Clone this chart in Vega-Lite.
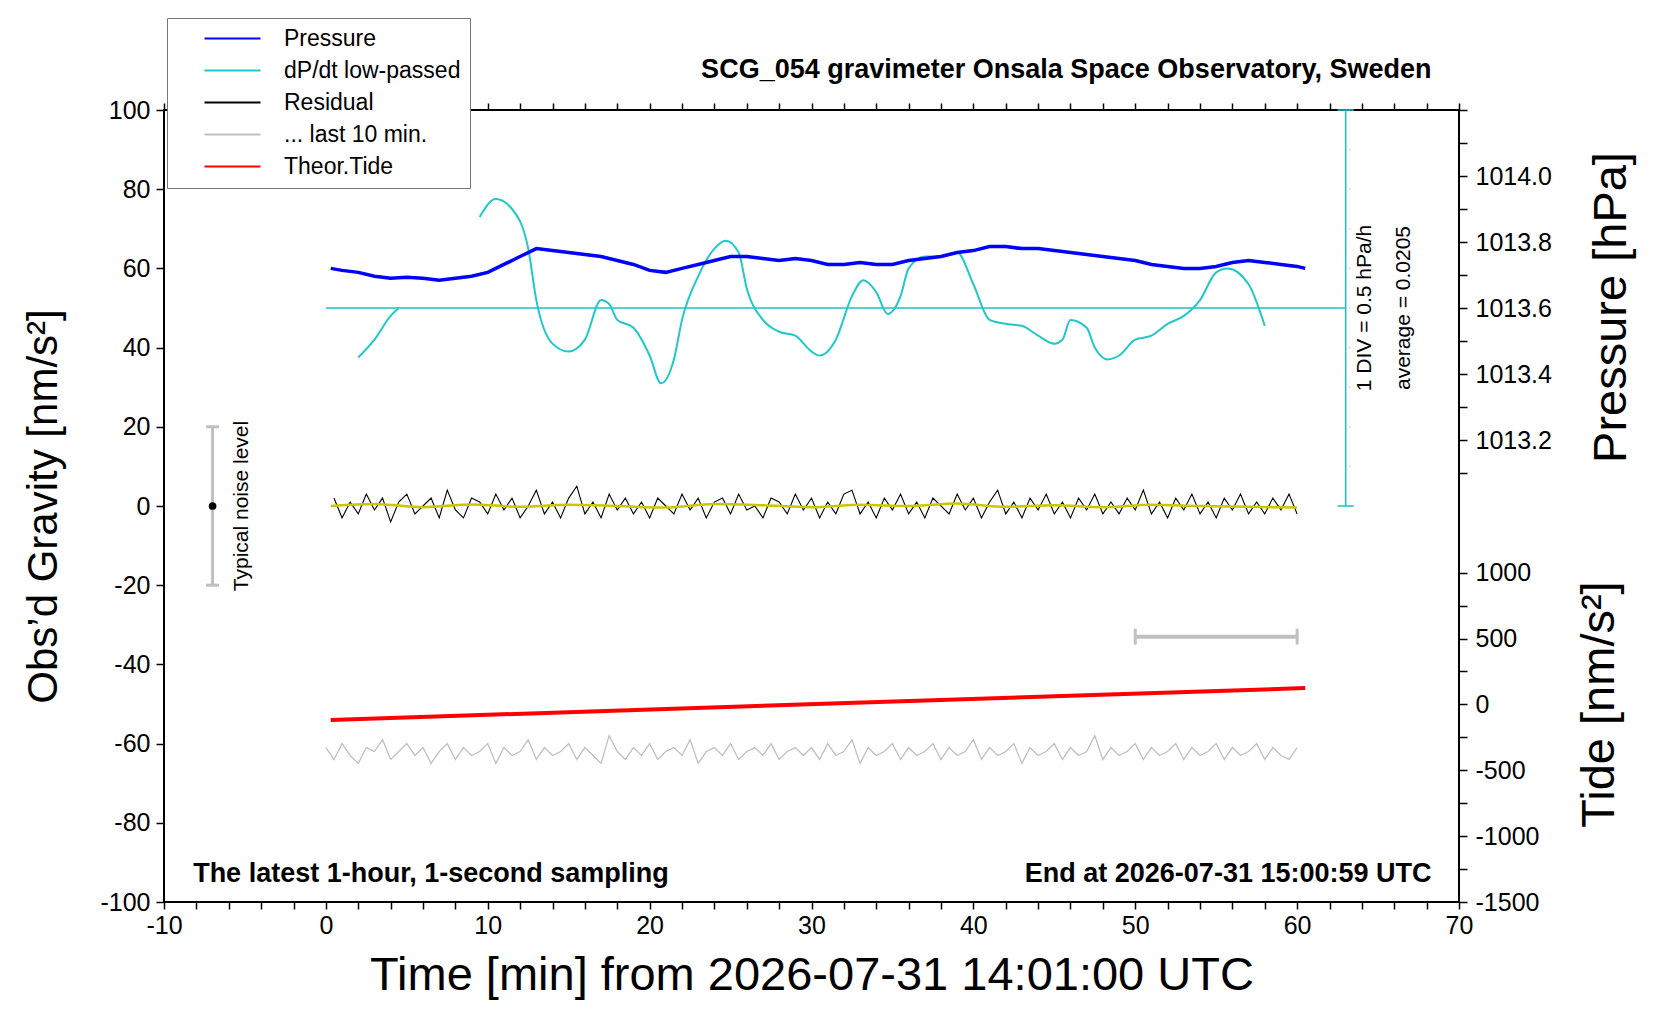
{
"$schema":"https://vega.github.io/schema/vega-lite/v6.json",
"width":1295,"height":792,
"autosize":{"type":"none"},
"padding":{"left":164,"top":110,"right":201,"bottom":118},
"background":"white",
"config":{"font":"Liberation Sans","view":{"stroke":"black","strokeWidth":2},
 "axis":{"domainColor":"black","domainWidth":2,"tickColor":"black","tickWidth":1.5,"labelColor":"black","labelFontSize":25,"labelFont":"Liberation Sans","titleFont":"Liberation Sans","titleFontWeight":"normal","titleColor":"black","grid":false,"labelOverlap":false},
 "legend":{"orient":"none","legendX":3,"legendY":-92,"strokeColor":"#777","fillColor":"white","padding":9,"labelFontSize":23,"labelFont":"Liberation Sans","symbolType":"M-2.8,0H2.8","symbolSize":400,"symbolStrokeWidth":2,"symbolOffset":45,"rowPadding":8,"labelOffset":40,"labelLimit":400,"title":null}},
"datasets":{
"prs":[{"t":0.3,"p":1013.720},{"t":1,"p":1013.714},{"t":2,"p":1013.708},{"t":3,"p":1013.696},{"t":4,"p":1013.690},{"t":5,"p":1013.693},{"t":6,"p":1013.690},{"t":7,"p":1013.684},{"t":8,"p":1013.690},{"t":9,"p":1013.696},{"t":10,"p":1013.708},{"t":11,"p":1013.732},{"t":12,"p":1013.756},{"t":13,"p":1013.780},{"t":14,"p":1013.774},{"t":15,"p":1013.768},{"t":16,"p":1013.762},{"t":17,"p":1013.756},{"t":18,"p":1013.744},{"t":19,"p":1013.732},{"t":20,"p":1013.714},{"t":21,"p":1013.708},{"t":22,"p":1013.720},{"t":23,"p":1013.732},{"t":24,"p":1013.744},{"t":25,"p":1013.756},{"t":26,"p":1013.756},{"t":27,"p":1013.750},{"t":28,"p":1013.744},{"t":29,"p":1013.750},{"t":30,"p":1013.744},{"t":31,"p":1013.732},{"t":32,"p":1013.732},{"t":33,"p":1013.738},{"t":34,"p":1013.732},{"t":35,"p":1013.732},{"t":36,"p":1013.744},{"t":37,"p":1013.750},{"t":38,"p":1013.756},{"t":39,"p":1013.768},{"t":40,"p":1013.774},{"t":41,"p":1013.786},{"t":42,"p":1013.786},{"t":43,"p":1013.780},{"t":44,"p":1013.780},{"t":45,"p":1013.774},{"t":46,"p":1013.768},{"t":47,"p":1013.762},{"t":48,"p":1013.756},{"t":49,"p":1013.750},{"t":50,"p":1013.744},{"t":51,"p":1013.732},{"t":52,"p":1013.726},{"t":53,"p":1013.720},{"t":54,"p":1013.720},{"t":55,"p":1013.726},{"t":56,"p":1013.738},{"t":57,"p":1013.744},{"t":58,"p":1013.738},{"t":59,"p":1013.732},{"t":60,"p":1013.726},{"t":60.5,"p":1013.720}],
"dp":[{"t":2,"v":37.5,"s":1},{"t":3,"v":42,"s":1},{"t":4,"v":48,"s":1},{"t":4.5,"v":50,"s":1},
{"t":9.5,"v":73,"s":2},{"t":10.5,"v":77.5,"s":2},{"t":11.5,"v":75,"s":2},{"t":12.5,"v":65,"s":2},{"t":13,"v":52,"s":2},{"t":14,"v":41,"s":2},{"t":15,"v":39,"s":2},{"t":16,"v":42,"s":2},{"t":17,"v":52,"s":2},{"t":17.5,"v":51,"s":2},{"t":18,"v":47,"s":2},{"t":19,"v":45,"s":2},{"t":20,"v":38,"s":2},{"t":20.7,"v":31,"s":2},{"t":21.5,"v":37,"s":2},{"t":22,"v":47,"s":2},{"t":23,"v":58,"s":2},{"t":24,"v":65,"s":2},{"t":24.7,"v":67,"s":2},{"t":25.5,"v":64,"s":2},{"t":26,"v":55,"s":2},{"t":27,"v":47,"s":2},{"t":28,"v":44,"s":2},{"t":29,"v":43,"s":2},{"t":30,"v":39,"s":2},{"t":30.5,"v":38,"s":2},{"t":31.5,"v":42,"s":2},{"t":32.5,"v":53,"s":2},{"t":33.2,"v":57,"s":2},{"t":34,"v":54,"s":2},{"t":34.7,"v":48.5,"s":2},{"t":35.5,"v":53,"s":2},{"t":36,"v":60,"s":2},{"t":37,"v":63,"s":2},{"t":38,"v":63,"s":2},{"t":39,"v":64,"s":2},{"t":40,"v":56,"s":2},{"t":41,"v":47,"s":2},{"t":42,"v":46,"s":2},{"t":43,"v":45.5,"s":2},{"t":44,"v":43,"s":2},{"t":45,"v":41,"s":2},{"t":45.5,"v":42,"s":2},{"t":46,"v":47,"s":2},{"t":47,"v":45,"s":2},{"t":47.5,"v":40,"s":2},{"t":48.3,"v":37,"s":2},{"t":49,"v":38,"s":2},{"t":50,"v":42,"s":2},{"t":51,"v":43,"s":2},{"t":52,"v":46,"s":2},{"t":53,"v":48,"s":2},{"t":54,"v":52,"s":2},{"t":55,"v":59,"s":2},{"t":55.7,"v":60,"s":2},{"t":57,"v":56,"s":2},{"t":58,"v":45.5,"s":2}],
"res":[{"t":0.5,"r":2},{"t":1,"r":-3},{"t":1.5,"r":1},{"t":2,"r":-2},{"t":2.5,"r":3},{"t":3,"r":-1},{"t":3.5,"r":2},{"t":4,"r":-4},{"t":4.5,"r":1},{"t":5,"r":3},{"t":5.5,"r":-2},{"t":6,"r":0},{"t":6.5,"r":2},{"t":7,"r":-3},{"t":7.5,"r":4},{"t":8,"r":-1},{"t":8.5,"r":-3},{"t":9,"r":2},{"t":9.5,"r":1},{"t":10,"r":-2},{"t":10.5,"r":3},{"t":11,"r":-1},{"t":11.5,"r":2},{"t":12,"r":-3},{"t":12.5,"r":0},{"t":13,"r":4},{"t":13.5,"r":-2},{"t":14,"r":1},{"t":14.5,"r":-3},{"t":15,"r":2},{"t":15.5,"r":5},{"t":16,"r":-2},{"t":16.5,"r":1},{"t":17,"r":-3},{"t":17.5,"r":3},{"t":18,"r":-1},{"t":18.5,"r":2},{"t":19,"r":-2},{"t":19.5,"r":1},{"t":20,"r":-3},{"t":20.5,"r":2},{"t":21,"r":0},{"t":21.5,"r":-2},{"t":22,"r":3},{"t":22.5,"r":-1},{"t":23,"r":2},{"t":23.5,"r":-3},{"t":24,"r":1},{"t":24.5,"r":2},{"t":25,"r":-2},{"t":25.5,"r":3},{"t":26,"r":-1},{"t":26.5,"r":0},{"t":27,"r":-3},{"t":27.5,"r":2},{"t":28,"r":1},{"t":28.5,"r":-2},{"t":29,"r":3},{"t":29.5,"r":-1},{"t":30,"r":2},{"t":30.5,"r":-3},{"t":31,"r":1},{"t":31.5,"r":-2},{"t":32,"r":3},{"t":32.5,"r":4},{"t":33,"r":-2},{"t":33.5,"r":1},{"t":34,"r":-3},{"t":34.5,"r":2},{"t":35,"r":-1},{"t":35.5,"r":3},{"t":36,"r":-2},{"t":36.5,"r":1},{"t":37,"r":-3},{"t":37.5,"r":2},{"t":38,"r":0},{"t":38.5,"r":-2},{"t":39,"r":3},{"t":39.5,"r":-1},{"t":40,"r":2},{"t":40.5,"r":-3},{"t":41,"r":1},{"t":41.5,"r":4},{"t":42,"r":-2},{"t":42.5,"r":1},{"t":43,"r":-3},{"t":43.5,"r":2},{"t":44,"r":-1},{"t":44.5,"r":3},{"t":45,"r":-2},{"t":45.5,"r":1},{"t":46,"r":-3},{"t":46.5,"r":2},{"t":47,"r":-1},{"t":47.5,"r":3},{"t":48,"r":-2},{"t":48.5,"r":1},{"t":49,"r":-2},{"t":49.5,"r":2},{"t":50,"r":-1},{"t":50.5,"r":4},{"t":51,"r":-2},{"t":51.5,"r":1},{"t":52,"r":-3},{"t":52.5,"r":2},{"t":53,"r":-1},{"t":53.5,"r":3},{"t":54,"r":-2},{"t":54.5,"r":1},{"t":55,"r":-3},{"t":55.5,"r":2},{"t":56,"r":-1},{"t":56.5,"r":3},{"t":57,"r":-2},{"t":57.5,"r":1},{"t":58,"r":-2},{"t":58.5,"r":2},{"t":59,"r":-1},{"t":59.5,"r":3},{"t":60,"r":-2}],
"gry":[{"t":0,"g":-61},{"t":0.5,"g":-64},{"t":1,"g":-60},{"t":1.5,"g":-63},{"t":2,"g":-65},{"t":2.5,"g":-61},{"t":3,"g":-62},{"t":3.5,"g":-59},{"t":4,"g":-64},{"t":4.5,"g":-62},{"t":5,"g":-60},{"t":5.5,"g":-63},{"t":6,"g":-61},{"t":6.5,"g":-65},{"t":7,"g":-62},{"t":7.5,"g":-60},{"t":8,"g":-64},{"t":8.5,"g":-61},{"t":9,"g":-63},{"t":9.5,"g":-62},{"t":10,"g":-60},{"t":10.5,"g":-65},{"t":11,"g":-61},{"t":11.5,"g":-63},{"t":12,"g":-62},{"t":12.5,"g":-59},{"t":13,"g":-64},{"t":13.5,"g":-61},{"t":14,"g":-63},{"t":14.5,"g":-62},{"t":15,"g":-60},{"t":15.5,"g":-64},{"t":16,"g":-61},{"t":16.5,"g":-63},{"t":17,"g":-65},{"t":17.5,"g":-58},{"t":18,"g":-62},{"t":18.5,"g":-64},{"t":19,"g":-61},{"t":19.5,"g":-63},{"t":20,"g":-60},{"t":20.5,"g":-64},{"t":21,"g":-62},{"t":21.5,"g":-61},{"t":22,"g":-63},{"t":22.5,"g":-59},{"t":23,"g":-65},{"t":23.5,"g":-62},{"t":24,"g":-61},{"t":24.5,"g":-63},{"t":25,"g":-60},{"t":25.5,"g":-64},{"t":26,"g":-62},{"t":26.5,"g":-61},{"t":27,"g":-63},{"t":27.5,"g":-60},{"t":28,"g":-64},{"t":28.5,"g":-62},{"t":29,"g":-61},{"t":29.5,"g":-63},{"t":30,"g":-61},{"t":30.5,"g":-64},{"t":31,"g":-60},{"t":31.5,"g":-63},{"t":32,"g":-62},{"t":32.5,"g":-59},{"t":33,"g":-65},{"t":33.5,"g":-61},{"t":34,"g":-63},{"t":34.5,"g":-62},{"t":35,"g":-60},{"t":35.5,"g":-64},{"t":36,"g":-61},{"t":36.5,"g":-63},{"t":37,"g":-62},{"t":37.5,"g":-60},{"t":38,"g":-64},{"t":38.5,"g":-61},{"t":39,"g":-63},{"t":39.5,"g":-62},{"t":40,"g":-59},{"t":40.5,"g":-64},{"t":41,"g":-61},{"t":41.5,"g":-63},{"t":42,"g":-62},{"t":42.5,"g":-60},{"t":43,"g":-65},{"t":43.5,"g":-61},{"t":44,"g":-63},{"t":44.5,"g":-62},{"t":45,"g":-60},{"t":45.5,"g":-64},{"t":46,"g":-61},{"t":46.5,"g":-63},{"t":47,"g":-62},{"t":47.5,"g":-58},{"t":48,"g":-64},{"t":48.5,"g":-61},{"t":49,"g":-63},{"t":49.5,"g":-62},{"t":50,"g":-60},{"t":50.5,"g":-64},{"t":51,"g":-61},{"t":51.5,"g":-63},{"t":52,"g":-62},{"t":52.5,"g":-60},{"t":53,"g":-64},{"t":53.5,"g":-61},{"t":54,"g":-63},{"t":54.5,"g":-62},{"t":55,"g":-60},{"t":55.5,"g":-64},{"t":56,"g":-61},{"t":56.5,"g":-63},{"t":57,"g":-62},{"t":57.5,"g":-60},{"t":58,"g":-64},{"t":58.5,"g":-61},{"t":59,"g":-63},{"t":59.5,"g":-64},{"t":60,"g":-61}],
"yel":[{"t":0.3,"y":0},{"t":3,"y":0.5},{"t":6,"y":-0.3},{"t":9,"y":0.4},{"t":12,"y":-0.2},{"t":15,"y":0.3},{"t":18,"y":0},{"t":21,"y":-0.4},{"t":24,"y":0.5},{"t":27,"y":0.2},{"t":30,"y":-0.3},{"t":33,"y":0.3},{"t":36,"y":0},{"t":39,"y":0.6},{"t":42,"y":-0.2},{"t":45,"y":0.2},{"t":48,"y":-0.3},{"t":51,"y":0.3},{"t":54,"y":0},{"t":57,"y":-0.2},{"t":60,"y":-0.4}],
"tide":[{"t":0.3,"tide":-118},{"t":60.5,"tide":124}],
"cticks":[{"y":0},{"y":10},{"y":20},{"y":30},{"y":40},{"y":50},{"y":60},{"y":70},{"y":80},{"y":90},{"y":100}]
},
"layer":[
{"layer":[
 {"data":{"values":[{"a":0,"b":63,"y":50}]},"mark":{"type":"rule","color":"#20c0c0","strokeWidth":1.5},
  "encoding":{"x":{"field":"a","type":"quantitative","scale":{"domain":[-10,70],"nice":false,"zero":false},
   "axis":{"values":[-10,0,10,20,30,40,50,60,70],"labelExpr":"replace(datum.label,'−','-')","labelOverlap":false,"labelBound":false,"labelFlush":false,"tickSize":7,"labelPadding":4,"title":"Time [min] from 2026-07-31 14:01:00 UTC","titleFontSize":47,"titlePadding":14,"domain":false}},
   "x2":{"field":"b"},
   "y":{"field":"y","type":"quantitative","scale":{"domain":[-100,100],"nice":false,"zero":false},
   "axis":{"values":[-100,-90,-80,-70,-60,-50,-40,-30,-20,-10,0,10,20,30,40,50,60,70,80,90,100],"labelExpr":"datum.value % 20 == 0 ? replace(datum.label,'−','-') : ''","labelOverlap":false,"tickSize":8,"labelPadding":6,"title":"Obs’d Gravity [nm/s²]","titleFontSize":42,"titlePadding":34,"domain":false}}}},
 {"data":{"values":[{"x":63,"a":0,"b":100}]},"mark":{"type":"rule","color":"#20c0c0","strokeWidth":1.5},
  "encoding":{"x":{"field":"x","type":"quantitative"},"y":{"field":"a","type":"quantitative"},"y2":{"field":"b"}}},
 {"data":{"name":"cticks"},"mark":{"type":"tick","orient":"horizontal","color":"#20c0c0","size":1,"thickness":1.2},
  "encoding":{"x":{"datum":63.25,"type":"quantitative"},"y":{"field":"y","type":"quantitative"}}},
 {"data":{"values":[{"a":62.5,"b":63.5,"y":0},{"a":62.5,"b":63.5,"y":100}]},"mark":{"type":"rule","color":"#20c0c0","strokeWidth":1.5},
  "encoding":{"x":{"field":"a","type":"quantitative"},"x2":{"field":"b"},"y":{"field":"y","type":"quantitative"}}},
 {"data":{"name":"dp"},"mark":{"type":"line","strokeWidth":2,"interpolate":"monotone"},
  "encoding":{"x":{"field":"t","type":"quantitative"},"y":{"field":"v","type":"quantitative"},"detail":{"field":"s"},
   "color":{"datum":"dP/dt low-passed","type":"nominal","scale":{"domain":["Pressure","dP/dt low-passed","Residual","... last 10 min.","Theor.Tide"],"range":["#0000ff","#20c8c8","#000000","#c0c0c0","#ff0000"]}}}},
 {"data":{"name":"gry"},"mark":{"type":"line","strokeWidth":1.3},
  "encoding":{"x":{"field":"t","type":"quantitative"},"y":{"field":"g","type":"quantitative"},"color":{"datum":"... last 10 min.","type":"nominal"}}},
 {"data":{"name":"res"},"mark":{"type":"line","strokeWidth":1.1},
  "encoding":{"x":{"field":"t","type":"quantitative"},"y":{"field":"r","type":"quantitative"},"color":{"datum":"Residual","type":"nominal"}}},
 {"data":{"name":"yel"},"mark":{"type":"line","strokeWidth":2.5,"color":"#c8c800","interpolate":"monotone"},
  "encoding":{"x":{"field":"t","type":"quantitative"},"y":{"field":"y","type":"quantitative"}}},
 {"data":{"values":[{"a":50,"b":60,"y":-33}]},"mark":{"type":"rule","color":"#c0c0c0","strokeWidth":4},
  "encoding":{"x":{"field":"a","type":"quantitative"},"x2":{"field":"b"},"y":{"field":"y","type":"quantitative"}}},
 {"data":{"values":[{"x":50,"a":-35,"b":-31},{"x":60,"a":-35,"b":-31},{"x":-7,"a":-20,"b":20}]},"mark":{"type":"rule","color":"#c0c0c0","strokeWidth":3},
  "encoding":{"x":{"field":"x","type":"quantitative"},"y":{"field":"a","type":"quantitative"},"y2":{"field":"b"}}},
 {"data":{"values":[{"a":-7.4,"b":-6.6,"y":20},{"a":-7.4,"b":-6.6,"y":-20}]},"mark":{"type":"rule","color":"#c0c0c0","strokeWidth":3},
  "encoding":{"x":{"field":"a","type":"quantitative"},"x2":{"field":"b"},"y":{"field":"y","type":"quantitative"}}},
 {"data":{"values":[{"x":-7,"y":0}]},"mark":{"type":"point","filled":true,"color":"black","size":60,"opacity":1},
  "encoding":{"x":{"field":"x","type":"quantitative"},"y":{"field":"y","type":"quantitative"}}},
 {"data":{"values":[{"x":-5.2,"y":0,"s":"Typical noise level"},{"x":64.2,"y":50,"s":"1 DIV = 0.5 hPa/h"},{"x":66.6,"y":50,"s":"average = 0.0205"}]},
  "mark":{"type":"text","fontSize":21,"color":"black","align":"center","baseline":"middle","angle":270,"font":"Liberation Sans"},
  "encoding":{"x":{"field":"x","type":"quantitative"},"y":{"field":"y","type":"quantitative"},"text":{"field":"s"}}},
 {"data":{"values":[{"x":68.3,"y":110,"s":"SCG_054 gravimeter Onsala Space Observatory, Sweden"},{"x":68.3,"y":-93,"s":"End at 2026-07-31 15:00:59 UTC"}]},
  "mark":{"type":"text","fontSize":27,"fontWeight":"bold","color":"black","align":"right","baseline":"middle","font":"Liberation Sans"},
  "encoding":{"x":{"field":"x","type":"quantitative"},"y":{"field":"y","type":"quantitative"},"text":{"field":"s"}}},
 {"data":{"values":[{"x":-8.2,"y":-93,"s":"The latest 1-hour, 1-second sampling"}]},
  "mark":{"type":"text","fontSize":27,"fontWeight":"bold","color":"black","align":"left","baseline":"middle","font":"Liberation Sans"},
  "encoding":{"x":{"field":"x","type":"quantitative"},"y":{"field":"y","type":"quantitative"},"text":{"field":"s"}}}
]},
{"data":{"name":"prs"},"mark":{"type":"line","strokeWidth":3.5},
 "encoding":{"x":{"field":"t","type":"quantitative","scale":{"domain":[-10,70],"nice":false},
   "axis":{"orient":"top","values":[-10,-8,-6,-4,-2,0,2,4,6,8,10,12,14,16,18,20,22,24,26,28,30,32,34,36,38,40,42,44,46,48,50,52,54,56,58,60,62,64,66,68,70],"labels":false,"tickSize":7,"title":null,"domain":false}},
  "y":{"field":"p","type":"quantitative","scale":{"domain":[1011.8,1014.2],"nice":false,"zero":false},
   "axis":{"orient":"right","values":[1013.1,1013.2,1013.3,1013.4,1013.5,1013.6,1013.7,1013.8,1013.9,1014.0,1014.1,1014.2],"labelExpr":"(round(datum.value*10) % 2 == 0) && datum.value < 1014.1 ? format(datum.value,'.1f') : ''","tickSize":8,"labelPadding":8,"title":"Pressure [hPa]","titleFontSize":47,"titleAngle":270,"titleX":152,"titleY":197,"titleAlign":"center","titleBaseline":"middle","offset":0,"domain":false}},
  "color":{"datum":"Pressure","type":"nominal"}}},
{"data":{"name":"tide"},"mark":{"type":"line","strokeWidth":4},
 "encoding":{"x":{"field":"t","type":"quantitative","scale":{"domain":[-10,70],"nice":false},
   "axis":{"orient":"bottom","offset":0,"values":[-8,-6,-4,-2,2,4,6,8,12,14,16,18,22,24,26,28,32,34,36,38,42,44,46,48,52,54,56,58,62,64,66,68],"labels":false,"tickSize":7,"title":null,"domain":false}},
  "y":{"field":"tide","type":"quantitative","scale":{"domain":[-1500,4513],"nice":false,"zero":false},
   "axis":{"orient":"right","values":[-1500,-1250,-1000,-750,-500,-250,0,250,500,750,1000],"labelExpr":"datum.value % 500 == 0 ? replace(format(datum.value,'d'),'−','-') : ''","tickSize":8,"labelPadding":8,"title":"Tide [nm/s²]","titleFontSize":47,"titleAngle":270,"titleX":140,"titleY":594,"titleAlign":"center","titleBaseline":"middle","offset":0,"domain":false}},
  "color":{"datum":"Theor.Tide","type":"nominal"}}}
],
"resolve":{"scale":{"y":"independent"},"axis":{"x":"independent","y":"independent"}}
}
